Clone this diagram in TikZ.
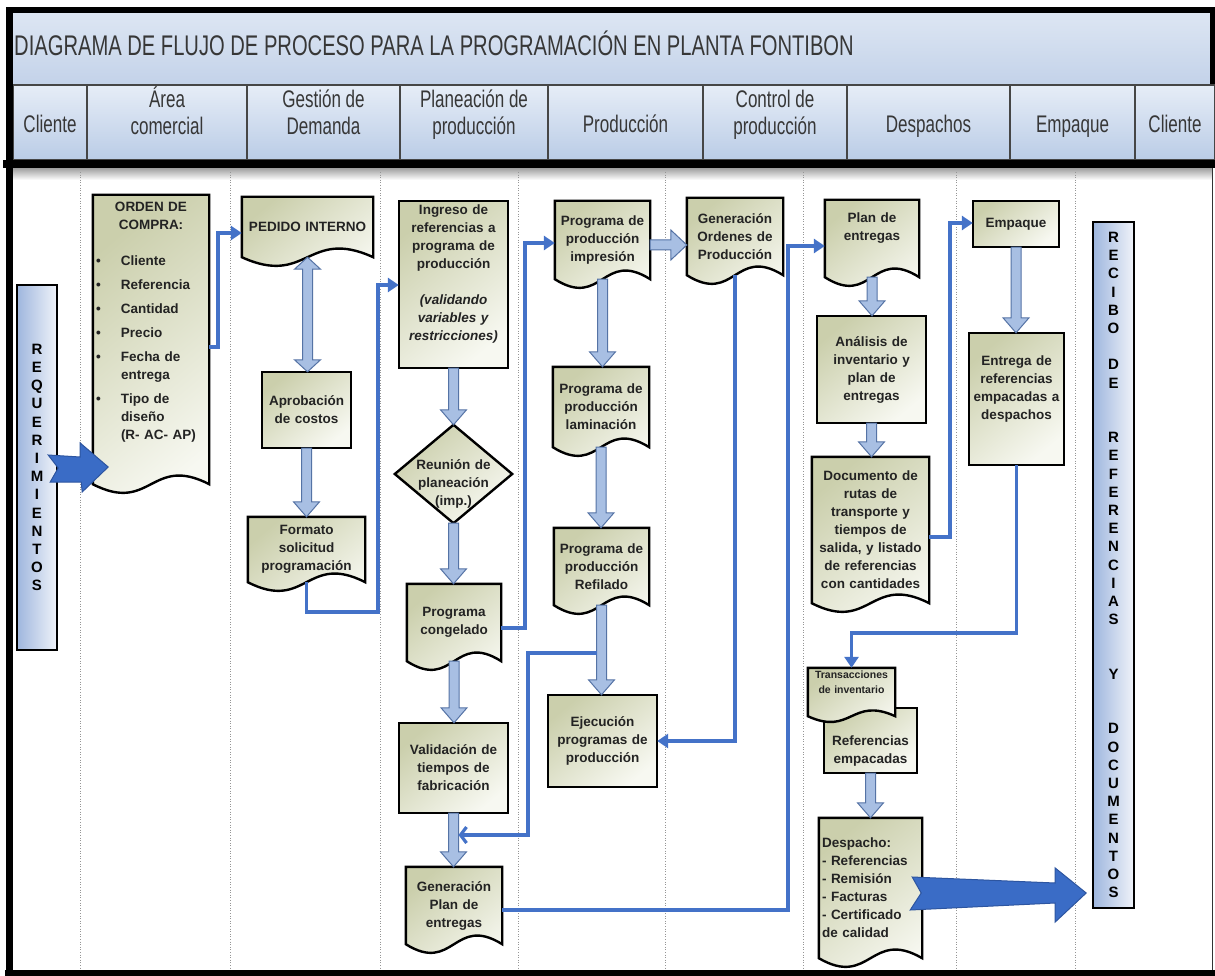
\documentclass[tikz,border=0pt]{standalone}
\usepackage{fontspec}
\setmainfont{Liberation Sans}
\newfontfamily\narrowfont[FakeStretch=0.71]{Liberation Sans}
\usetikzlibrary{calc,arrows.meta}
\pgfdeclarelayer{back}
\pgfdeclarelayer{boxes}
\pgfsetlayers{back,boxes,main}

\definecolor{boxdark}{RGB}{203,207,172}
\definecolor{boxmid}{RGB}{238,239,227}
\definecolor{boxlight}{RGB}{247,248,241}
\definecolor{txt}{RGB}{35,35,35}
\definecolor{hdrtxt}{RGB}{55,55,55}
\definecolor{conncol}{RGB}{68,114,200}
\definecolor{blkfill}{RGB}{168,191,227}
\definecolor{blkedge}{RGB}{85,115,165}
\definecolor{bigfill}{RGB}{58,108,198}
\definecolor{bigedge}{RGB}{45,85,160}
\definecolor{barblue}{RGB}{158,182,222}
\definecolor{barlight}{RGB}{240,243,249}
\definecolor{bandtop}{RGB}{221,230,243}
\definecolor{bandbot}{RGB}{195,210,233}
\definecolor{celltop}{RGB}{230,237,247}
\definecolor{cellbot}{RGB}{186,204,230}
\definecolor{celledge}{RGB}{70,70,70}
\definecolor{lanecol}{RGB}{150,150,150}

\tikzset{
  txtbox/.style={inner sep=0pt, align=center, text=txt,
    font=\bfseries\fontsize{13.5}{18}\selectfont},
  smalltxt/.style={font=\bfseries\fontsize{10.5}{15}\selectfont},
  vbar/.style={font=\bfseries\fontsize{15}{18.2}\selectfont, text=black},
  shapefill/.style={draw=black, line width=2.4pt, line join=miter,
    top color=boxdark, middle color=boxmid, bottom color=boxlight, shading angle=40},
  barfill/.style={draw=black, line width=2pt, left color=barblue, right color=barlight},
  cell/.style={draw=celledge, line width=1.3pt, top color=celltop, bottom color=cellbot},
  hdr/.style={inner sep=0pt, align=center, anchor=north, text=hdrtxt,
    font=\narrowfont\fontsize{24}{27}\selectfont},
  lane/.style={draw=lanecol, line width=1pt, dash pattern=on 1pt off 1.6pt},
  conn/.style={draw=conncol, line width=3.2pt, -{Triangle[length=11pt,width=14pt]}},
  connopen/.style={draw=conncol, line width=3.2pt, -{Straight Barb[length=6pt,width=16pt]}},
  bigarr/.style={fill=bigfill, draw=bigedge, line width=1pt, line join=miter},
  blk/.style={draw=blkedge, fill=blkfill, line width=1pt, line join=miter},
  blkdown/.style={blk, to path={
    ($(\tikztostart)+(-5,0)$) -- ($(\tikztostart |- \tikztotarget)+(-5,-15)$)
    -- ($(\tikztostart |- \tikztotarget)+(-13,-15)$) -- (\tikztostart |- \tikztotarget)
    -- ($(\tikztostart |- \tikztotarget)+(13,-15)$) -- ($(\tikztostart |- \tikztotarget)+(5,-15)$)
    -- ($(\tikztostart)+(5,0)$) -- cycle}},
  blkboth/.style={blk, to path={
    (\tikztostart) -- ($(\tikztostart)+(13,12)$) -- ($(\tikztostart)+(5,12)$)
    -- ($(\tikztostart |- \tikztotarget)+(5,-12)$) -- ($(\tikztostart |- \tikztotarget)+(13,-12)$)
    -- (\tikztostart |- \tikztotarget) -- ($(\tikztostart |- \tikztotarget)+(-13,-12)$)
    -- ($(\tikztostart |- \tikztotarget)+(-5,-12)$) -- ($(\tikztostart)+(-5,12)$)
    -- ($(\tikztostart)+(-13,12)$) -- cycle}},
  blkright/.style={blk, to path={
    ($(\tikztostart)+(0,-5)$) -- ($(\tikztotarget |- \tikztostart)+(-16,-5)$)
    -- ($(\tikztotarget |- \tikztostart)+(-16,-15)$) -- (\tikztotarget |- \tikztostart)
    -- ($(\tikztotarget |- \tikztostart)+(-16,15)$) -- ($(\tikztotarget |- \tikztostart)+(-16,5)$)
    -- ($(\tikztostart)+(0,5)$) -- cycle}}
}

% style, name, x1, y1, x2, y2, text
\newcommand\bx[7]{%
  \pgfmathsetmacro\bxw{#5-#3}\pgfmathsetmacro\bxh{#6-#4}%
  \pgfmathsetmacro\bxcx{(#3+#5)/2}\pgfmathsetmacro\bxcy{(#4+#6)/2}%
  \node[txtbox, minimum width=\bxw pt, minimum height=\bxh pt, text width=\bxw pt, #1]
    (#2) at (\bxcx,\bxcy) {#7};}
\newcommand\docshape[2][30]{\begin{pgfonlayer}{boxes}
  \path[shapefill] (#2.north west) -- (#2.north east) -- (#2.south east)
    .. controls ($(#2.south)+(0,-#1)$) and ($(#2.south)+(0,#1)$) .. (#2.south west) -- cycle;
  \end{pgfonlayer}}
\newcommand\rectshape[1]{\begin{pgfonlayer}{boxes}
  \path[shapefill] (#1.north west) rectangle (#1.south east);\end{pgfonlayer}}
\newcommand\diamshape[1]{\begin{pgfonlayer}{boxes}
  \path[shapefill] (#1.north) -- (#1.east) -- (#1.south) -- (#1.west) -- cycle;\end{pgfonlayer}}
\newcommand\barshape[1]{\begin{pgfonlayer}{boxes}
  \path[barfill] (#1.north west) rectangle (#1.south east);\end{pgfonlayer}}
\newcommand\bul{\makebox[28pt][l]{\hspace{3pt}\textbullet}}

\begin{document}
\begin{tikzpicture}[x=1pt,y=-1pt]
\useasboundingbox (0,0) rectangle (1215,976);

% ---------- background, title band, header, frame ----------
\begin{pgfonlayer}{back}
  \fill[white] (0,0) rectangle (1215,976);
  \path[top color=bandtop, bottom color=bandbot] (13,13) rectangle (1212,85);
  \foreach \a/\b in {13/87, 87/247, 247/400, 400/548, 548/703, 703/847, 847/1010, 1010/1135, 1135/1215}
    \path[cell] (\a,85) rectangle (\b,160);
  \path[top color=gray!75, bottom color=white] (13,168) rectangle (1212,180);
  \foreach \x in {80,230,380,518,665,803,956,1075}
    \draw[lane] (\x,172) -- (\x,968);
  \fill[black] (6,7) rectangle (1215,13);
  \fill[black] (6,7) rectangle (13,976);
  \fill[black] (1210,7) rectangle (1215,84);
  \fill[black] (3,160) rectangle (1215,168);
  \fill[black] (5,970) rectangle (1215,976);
  \draw[gray!40!black, line width=1.5pt] (1212.5,168) -- (1212.5,970);
\end{pgfonlayer}

\node[anchor=base west, inner sep=0pt, text=hdrtxt, font=\narrowfont\fontsize{28.4}{30}\selectfont]
  (title) at (14,55.5) {DIAGRAMA DE FLUJO DE PROCESO PARA LA PROGRAMACIÓN EN PLANTA FONTIBON};

\node[hdr] (h1) at (50,110) {\rule{0pt}{22pt}Cliente};
\node[hdr] (h2) at (167,85) {\rule{0pt}{22pt}Área\\comercial};
\node[hdr] (h3) at (323.5,85) {\rule{0pt}{22pt}Gestión de\\Demanda};
\node[hdr] (h4) at (474,85) {\rule{0pt}{22pt}Planeación de\\producción};
\node[hdr] (h5) at (625.5,110) {\rule{0pt}{22pt}Producción};
\node[hdr] (h6) at (775,85) {\rule{0pt}{22pt}Control de\\producción};
\node[hdr] (h7) at (928.5,110) {\rule{0pt}{22pt}Despachos};
\node[hdr] (h8) at (1072.5,110) {\rule{0pt}{22pt}Empaque};
\node[hdr] (h9) at (1175,110) {\rule{0pt}{22pt}Cliente};

% ---------- boxes ----------
\bx{vbar}{req}{17}{285}{57}{650}{R\\E\\Q\\U\\E\\R\\I\\M\\I\\E\\N\\T\\O\\S}
\barshape{req}
\bx{vbar}{recibo}{1093}{222}{1134}{908}{R\\E\\C\\I\\B\\O\\\strut\\D\\E\\\strut\\\strut\\R\\E\\F\\E\\R\\E\\N\\C\\I\\A\\S\\\strut\\\strut\\Y\\\strut\\\strut\\D\\O\\C\\U\\M\\E\\N\\T\\O\\S}
\barshape{recibo}

\bx{align=left}{orden}{93}{195}{209}{484}{\noindent\rule{0pt}{17pt}\makebox[116pt][c]{ORDEN DE}\\
  \makebox[116pt][c]{COMPRA:}\\[18pt]
  \bul Cliente\\[6pt]
  \bul Referencia\\[6pt]
  \bul Cantidad\\[6pt]
  \bul Precio\\[6pt]
  \bul Fecha de\\
  \hspace*{28pt}entrega\\[6pt]
  \bul Tipo de\\
  \hspace*{28pt}diseño\\
  \hspace*{28pt}(R- AC- AP)\rule[-44pt]{0pt}{44pt}}
\docshape{orden}

\bx{}{pedido}{242}{197}{373}{257}{PEDIDO INTERNO}
\docshape{pedido}
\bx{}{aprob}{262}{372}{351}{448}{Aprobación\\de costos}
\rectshape{aprob}
\bx{}{formato}{248}{517}{365}{582}{Formato\\solicitud\\programación}
\docshape{formato}

\bx{}{ingreso}{399}{201}{508}{368}{Ingreso de\\referencias a\\programa de\\producción\\\strut\\\textit{(validando}\\\textit{variables y}\\\textit{restricciones)}\\\strut}
\rectshape{ingreso}
\bx{}{reunion}{395}{425}{512}{523}{\strut\\Reunión de\\planeación\\(imp.)}
\diamshape{reunion}
\bx{}{congelado}{407}{584}{501}{661}{Programa\\congelado}
\docshape{congelado}
\bx{}{valid}{399}{723}{508}{813}{Validación de\\tiempos de\\fabricación}
\rectshape{valid}
\bx{}{genplan}{406}{867}{502}{944}{Generación\\Plan de\\entregas}
\docshape{genplan}

\bx{}{impresion}{555}{201}{650}{279}{Programa de\\producción\\impresión}
\docshape{impresion}
\bx{}{lamin}{553}{367}{649}{447}{Programa de\\producción\\laminación}
\docshape{lamin}
\bx{}{refil}{554}{528}{649}{605}{Programa de\\producción\\Refilado}
\docshape{refil}
\bx{}{ejec}{548}{695}{657}{787}{Ejecución\\programas de\\producción}
\rectshape{ejec}

\bx{}{genord}{687}{198}{783}{275}{Generación\\Ordenes de\\Producción}
\docshape{genord}

\bx{}{plan}{825}{200}{919}{277}{Plan de\\entregas\\\strut}
\docshape{plan}
\bx{}{anal}{817}{316}{926}{423}{Análisis de\\inventario y\\plan de\\entregas}
\rectshape{anal}
\bx{}{docu}{812}{457}{929}{603}{Documento de\\rutas de\\transporte y\\tiempos de\\salida, y listado\\de referencias\\con cantidades}
\docshape{docu}
\bx{}{refemp}{824}{708}{917}{773}{\strut\\Referencias\\empacadas}
\rectshape{refemp}
\bx{smalltxt}{trans}{808}{668}{895}{716}{Transacciones\\de inventario\\\strut}
\docshape[20]{trans}
\bx{text width=97pt, inner xsep=3pt, align=left}{despacho}{819}{818}{922}{958}{Despacho:\\- Referencias\\- Remisión\\- Facturas\\- Certificado\\de calidad}
\docshape{despacho}

\bx{}{empaque}{973}{201}{1059}{247}{Empaque}
\rectshape{empaque}
\bx{}{entrega}{969}{333}{1064}{465}{Entrega de\\referencias\\empacadas a\\despachos\\\strut}
\rectshape{entrega}

% ---------- block arrows ----------
\draw[blkboth] (pedido.south) to (aprob.north);
\draw[blkdown] (aprob.south) to (formato.north);
\draw[blkdown] (ingreso.south) to (reunion.north);
\draw[blkdown] (reunion.south) to (congelado.north);
\draw[blkdown] (congelado.south) to (valid.north);
\draw[blkdown] (valid.south) to (genplan.north);
\draw[blkdown] (impresion.south) to (lamin.north);
\draw[blkdown] (lamin.south) to (refil.north);
\draw[blkdown] (refil.south) to (ejec.north);
\coordinate (imprR) at (impresion.east |- 0,245);
\draw[blkright] (imprR) to (genord.west);
\draw[blkdown] (plan.south) to (anal.north);
\draw[blkdown] (anal.south) to (docu.north);
\draw[blkdown] (empaque.south) to (entrega.north);
\draw[blkdown] (refemp.south) to (despacho.north);

% ---------- blue connectors ----------
\draw[conn] (orden.east |- 0,347) -| (218,233) -- (pedido.west |- 0,233);
\draw[conn] (formato.south) |- (378,612) |- (ingreso.west |- 0,285);
\draw[conn] (congelado.east |- 0,628) -| (525,243) -- (impresion.west |- 0,243);
\coordinate (rj) at ($(refil.south |- 0,653)+(-5,0)$);
\coordinate (vj) at ($(valid.south |- 0,835)+(5,0)$);
\draw[connopen] (rj) -| (528,835) -- (vj);
\draw[conn] (genord.south) |- (ejec.east);
\draw[conn] (genplan.east |- 0,910) -| (788,246) -- (plan.west |- 0,246);
\draw[conn] (docu.east |- 0,537) -| (950,223) -- (empaque.west |- 0,223);
\draw[conn] (entrega.south) -- (entrega.south |- 0,633) -| (trans.north);

% ---------- big notched arrows ----------
\draw[bigarr, shift={(req.east)}] (-9,-12.5) -- (23,-10.5) -- (23,-24.5) -- (51,-0.5)
  -- (25,24.5) -- (24,14.5) -- (-7,14.5) -- (1,0.5) -- cycle;
\draw[bigarr, shift={(despacho.east)}] (-10,-11) -- (133,-5) -- (133,-20) -- (164,5)
  -- (133,34) -- (133,15) -- (-12,22) -- (-1,5) -- cycle;
\end{tikzpicture}
\end{document}
